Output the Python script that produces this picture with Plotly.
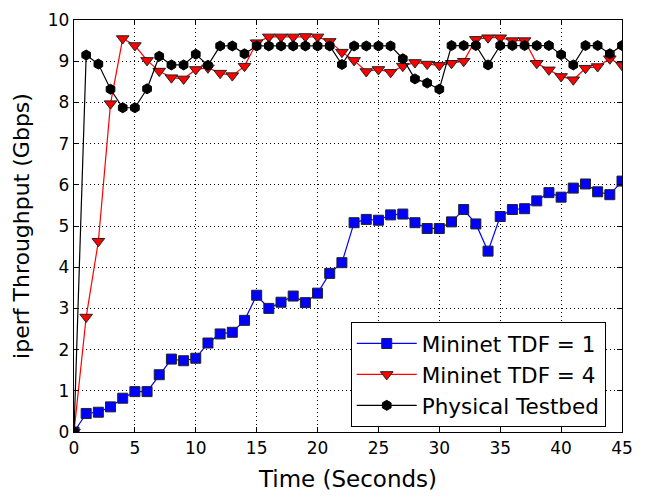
import plotly.graph_objects as go

time_s = list(range(0, 46))

mininet_tdf1 = [0.0, 0.45, 0.48, 0.61, 0.82, 0.98, 0.98, 1.39, 1.77, 1.73, 1.79,
                2.16, 2.38, 2.42, 2.71, 3.32, 3.0, 3.15, 3.3, 3.14, 3.37,
                3.85, 4.11, 5.08, 5.16, 5.14, 5.27, 5.29, 5.08, 4.94, 4.94,
                5.1, 5.4, 5.05, 4.39, 5.23, 5.4, 5.42, 5.61, 5.81, 5.7,
                5.92, 6.02, 5.83, 5.76, 6.09]

mininet_tdf4 = [0.0, 2.79, 4.63, 7.97, 9.55, 9.38, 9.02, 8.76, 8.6, 8.57, 8.8,
                8.84, 8.71, 8.65, 8.88, 9.45, 9.59, 9.59, 9.59, 9.6, 9.59,
                9.48, 9.22, 9.02, 8.75, 8.8, 8.73, 8.88, 8.97, 8.93, 8.9,
                8.95, 9.0, 9.53, 9.57, 9.57, 9.5, 9.5, 8.95, 8.79, 8.63,
                8.55, 8.83, 8.87, 9.06, 8.9]

physical = [0.0, 9.15, 8.93, 8.32, 7.87, 7.87, 8.33, 9.12, 8.91, 8.91, 9.17,
            8.9, 9.37, 9.37, 9.18, 9.37, 9.37, 9.37, 9.37, 9.37, 9.37,
            9.37, 8.92, 9.37, 9.37, 9.37, 9.37, 9.06, 8.57, 8.47, 8.32,
            9.38, 9.38, 9.38, 8.91, 9.38, 9.38, 9.38, 9.38, 9.38, 9.16,
            8.91, 9.38, 9.38, 9.18, 9.38]

x_ticks = [0, 5, 10, 15, 20, 25, 30, 35, 40, 45]
y_ticks = list(range(0, 11))

font_family = "DejaVu Sans"

fig = go.Figure()
fig.add_trace(go.Scatter(
    x=time_s, y=mininet_tdf1, mode="lines+markers", name="Mininet TDF = 1",
    line=dict(color="#0000ff", width=1.2),
    marker=dict(symbol="square", size=10, color="#0000ff",
                line=dict(color="#222222", width=1)),
))
fig.add_trace(go.Scatter(
    x=time_s, y=mininet_tdf4, mode="lines+markers", name="Mininet TDF = 4",
    line=dict(color="#ff0000", width=1.2),
    marker=dict(symbol="triangle-down", size=11, color="#ff0000",
                line=dict(color="#222222", width=1)),
))
fig.add_trace(go.Scatter(
    x=time_s, y=physical, mode="lines+markers", name="Physical Testbed",
    line=dict(color="black", width=1.2),
    marker=dict(symbol="hexagon", size=10, color="black",
                line=dict(color="black", width=1)),
))

axis_common = dict(
    showline=True, linecolor="black", linewidth=1.3, mirror="ticks",
    ticks="inside", ticklen=5, tickcolor="black",
    showgrid=True, gridcolor="black", griddash="1px,3px", gridwidth=1,
    zeroline=False,
    tickfont=dict(family=font_family, size=17, color="black"),
)

fig.update_xaxes(range=[0, 45], tickvals=x_ticks,
                 title=dict(text="Time (Seconds)", font=dict(family=font_family, size=23, color="black"), standoff=14),
                 **axis_common)
fig.update_yaxes(range=[0, 10], tickvals=y_ticks,
                 title=dict(text="iperf Throughput (Gbps)", font=dict(family=font_family, size=22, color="black"), standoff=12),
                 **axis_common)

fig.update_layout(
    width=659, height=498,
    margin=dict(l=74, r=37, t=10, b=65),
    paper_bgcolor="white", plot_bgcolor="white",
    font=dict(family=font_family, color="black"),
    legend=dict(x=0.505, y=0.267, xanchor="left", yanchor="top",
                bgcolor="white", bordercolor="black", borderwidth=1,
                font=dict(family=font_family, size=21.5, color="black"),
                itemwidth=60, tracegroupgap=0),
    showlegend=True,
)

fig.write_html("out.html")
